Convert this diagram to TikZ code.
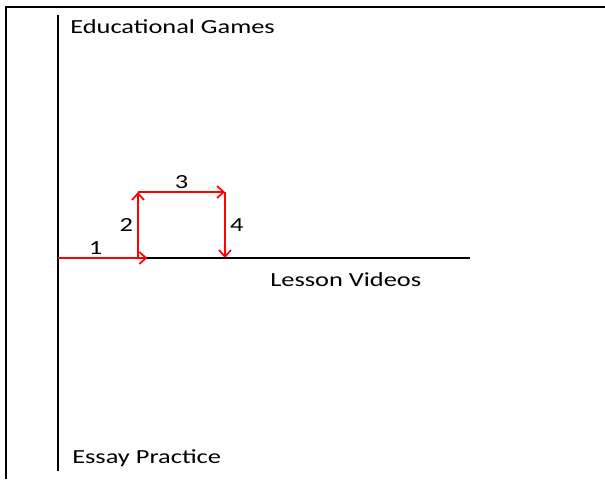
\documentclass[tikz,border=0pt]{standalone}
\usepackage{fontspec}
\setmainfont{Carlito}[FakeStretch=1.32]
\usetikzlibrary{arrows.meta,positioning}

\begin{document}
\begin{tikzpicture}[x=0.75pt, y=-0.75pt,
    every node/.style={font=\fontsize{15}{18}\selectfont, inner sep=0pt, text=black},
    axisline/.style={line width=2.2pt, black},
    move/.style={line width=1.5pt, red, -{Straight Barb[length=5pt, width=9pt, line width=1.3pt]}}]
    \useasboundingbox (0,0) rectangle (605,479);
    \draw[line width=1.6pt] (6,479) -- (6,7) -- (605,7);

    \coordinate (top) at (58,15);
    \coordinate (bottom) at (58,471);
    \coordinate (origin) at (58,258);
    \coordinate (right) at (470,258);
    \coordinate (p1) at (138,258);
    \coordinate (p2) at (138,192);
    \coordinate (p3) at (225,192);
    \coordinate (p4) at (225,258);

    \draw[axisline] (top) -- (bottom);
    \draw[axisline] (origin) -- (right);

    \node[right] (games) at (70,27) {Educational Games};
    \node[right] (videos) at (270,280) {Lesson Videos};
    \node[right] (essay) at (72,458) {Essay Practice};

    \draw[move, shorten >=-7pt] (origin) -- (p1) node[pos=0.47, above=2pt] (n1) {1};
    \draw[move] (p1) -- (p2) node[midway, left=3pt] (n2) {2};
    \draw[move] (p2) -- (p3) node[midway, above=2pt] (n3) {3};
    \draw[move] (p3) -- (p4) node[midway, right=3pt] (n4) {4};
  \end{tikzpicture}
\end{document}
